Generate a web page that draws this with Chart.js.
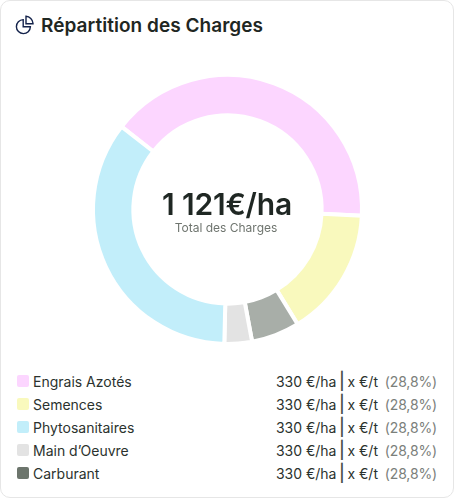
<!DOCTYPE html>
<html lang="fr">
<head>
<meta charset="utf-8">
<title>Répartition des Charges</title>
<script src="https://cdn.jsdelivr.net/npm/chart.js@4"></script>
<style>
    html, body { margin: 0; padding: 0; background: #fff; }
    body { width: 454px; height: 498px; overflow: hidden; font-family: Inter, sans-serif; color: #1f2723; }
    #card { position: absolute; left: 0; top: 0; width: 452px; height: 496px; border: 1px solid #e6e6e6; border-radius: 10px; }
    #icon { position: absolute; left: 14px; top: 14px; }
    #title { position: absolute; left: 40px; top: 13px; font-size: 19px; letter-spacing: 0.04px; line-height: 24px; font-weight: 600; white-space: nowrap; }
    #wrap { position: absolute; left: 76px; top: 58px; width: 301px; height: 301px; }
    #total { position: absolute; left: 0; top: 187px; width: 452px; text-align: center; font-size: 30px; line-height: 32px; font-weight: 600; letter-spacing: -0.2px; }
    #sub { position: absolute; left: 0; top: 219px; width: 450px; text-align: center; font-size: 12px; line-height: 16px; color: #6f756f; }
    .row { position: absolute; left: 0; width: 452px; height: 23px; font-size: 14px; line-height: 23px; white-space: nowrap; }
    .swatch { position: absolute; left: 16px; top: 5px; width: 12px; height: 12px; border-radius: 2px; }
    .name { position: absolute; left: 32px; top: 0; color: #2b322e; }
    .value { position: absolute; right: 75px; top: 0; color: #2b322e; }
    .sep { font-size: 17px; font-weight: 500; color: #444b46; margin: 0 -1.4px; }
    .pct { position: absolute; right: 16px; top: 0; color: #7b807b; letter-spacing: -0.15px; }
</style>
</head>
<body>
<div id="card">
    <svg id="icon" width="20" height="20" viewBox="0 0 20 20" fill="none" stroke="#14234b" stroke-width="1.4">
        <path d="M8.2 4.6a7 7 0 1 0 7.2 7.2H8.2z"/>
        <path d="M11 1.2a7.6 7.6 0 0 1 7 7v.6h-7z"/>
    </svg>
    <div id="title">Répartition des Charges</div>
    <div id="wrap"><canvas id="chart-charges"></canvas></div>
    <div id="total">1 121€/ha</div>
    <div id="sub">Total des Charges</div>
    <div id="legend"></div>
</div>
<script>
    'use strict';

    // slices in drawing order, clockwise
    var sliceLabels = ['Engrais Azotés', 'Semences', 'Carburant', "Main d’Oeuvre", 'Phytosanitaires'];
    var sliceValues = [450, 174, 65, 37, 394];
    var sliceColors = ['#fcd6ff', '#f9f9bd', '#a8aea8', '#e3e3e3', '#c2eefa'];

    // legend rows
    var legendLabels = ['Engrais Azotés', 'Semences', 'Phytosanitaires', "Main d’Oeuvre", 'Carburant'];
    var legendColors = ['#fcd6ff', '#f9f9bd', '#c2eefa', '#e3e3e3', '#6c756c'];
    var legendHectare = ['330 €/ha', '330 €/ha', '330 €/ha', '330 €/ha', '330 €/ha'];
    var legendTonne = ['x €/t', 'x €/t', 'x €/t', 'x €/t', 'x €/t'];
    var legendPercents = ['(28,8%)', '(28,8%)', '(28,8%)', '(28,8%)', '(28,8%)'];

    var legend = document.getElementById('legend');
    legendLabels.forEach(function (label, i) {
        var row = document.createElement('div');
        row.className = 'row';
        row.style.top = (369 + i * 23) + 'px';
        row.innerHTML = '<span class="swatch" style="background:' + legendColors[i] + '"></span>' +
            '<span class="name">' + label + '</span>' +
            '<span class="value">' + legendHectare[i] + ' <span class="sep">|</span> ' + legendTonne[i] + '</span>' +
            '<span class="pct">' + legendPercents[i] + '</span>';
        legend.appendChild(row);
    });

    var ctx = document.getElementById('chart-charges');
    var chart = new Chart(ctx, {
        type: 'doughnut',
        data: {
            labels: sliceLabels,
            datasets: [
                {
                    data: sliceValues,
                    backgroundColor: sliceColors,
                    borderColor: '#ffffff',
                    borderWidth: 4
                }
            ]
        },
        options: {
            responsive: true,
            maintainAspectRatio: false,
            animation: false,
            cutout: '70%',
            rotation: -52,
            layout: { padding: 14 },
            plugins: {
                legend: { display: false },
                title: { display: false },
                tooltip: { enabled: false }
            }
        }
    });
</script>
</body>
</html>
